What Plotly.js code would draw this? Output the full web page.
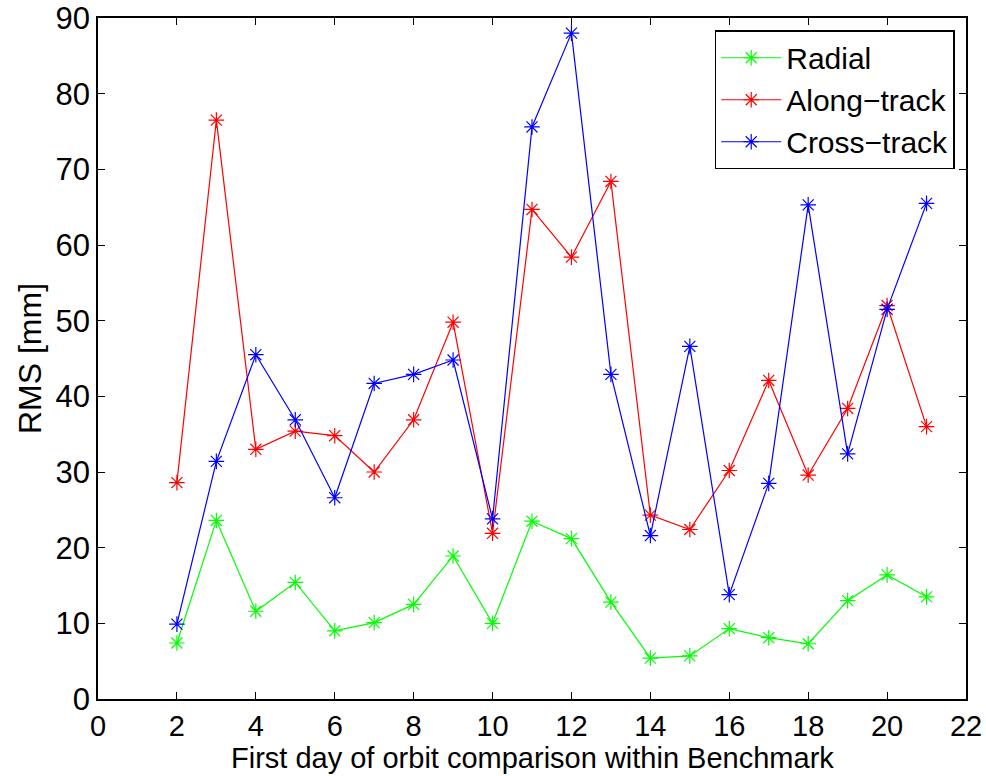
<!DOCTYPE html>
<html>
<head>
<meta charset="utf-8">
<script src="https://cdn.plot.ly/plotly-3.0.1.min.js"></script>
<style>html,body{margin:0;padding:0;background:#fff;}#chart{width:986px;height:776px;}</style>
</head>
<body>
<div id="chart"></div>
<script>
const days = [2,3,4,5,6,7,8,9,10,11,12,13,14,15,16,17,18,19,20,21];
const radial = [7.4,23.6,11.6,15.4,9.0,10.1,12.5,18.9,10.0,23.5,21.2,12.8,5.4,5.7,9.3,8.1,7.3,13.0,16.4,13.5];
const alongTrack = [28.6,76.5,33.0,35.4,34.8,30.0,36.9,49.8,21.9,64.7,58.4,68.4,24.3,22.4,30.2,42.1,29.6,38.4,52.0,36.0];
const crossTrack = [9.9,31.4,45.5,36.9,26.6,41.7,42.9,44.8,23.8,75.6,88.0,42.9,21.6,46.6,13.8,28.5,65.3,32.4,51.5,65.5];
const seriesNames = ["Radial","Along\u2212track","Cross\u2212track"];
const xTicks = [0,2,4,6,8,10,12,14,16,18,20,22];
const yTicks = [0,10,20,30,40,50,60,70,80,90];
const xTitle = 'First day of orbit comparison within Benchmark';
const yTitle = 'RMS [mm]';

function tr(y, name, color){
  return {x: days, y: y, name: name, type: 'scatter', mode: 'lines+markers',
    line: {color: color, width: 1.2},
    marker: {symbol: 'asterisk-open', size: 13, color: color, line: {color: color, width: 1.2}}};
}
const data = [tr(radial, seriesNames[0], '#00ff00'), tr(alongTrack, seriesNames[1], '#ff0000'), tr(crossTrack, seriesNames[2], '#0000ff')];
const fam = 'Liberation Sans, Arial, sans-serif';
const yTickFont = {family: fam, size: 31, color: '#000'};
const xTickFont = {family: fam, size: 29, color: '#000'};
const titleFont = {family: fam, size: 32, color: '#000'};
const xTitleFont = {family: fam, size: 29, color: '#000'};
const legendFont = {family: fam, size: 30, color: '#000'};
const layout = {
  width: 986, height: 776,
  margin: {l: 98, r: 20, t: 18, b: 77},
  paper_bgcolor: '#fff', plot_bgcolor: '#fff',
  font: yTickFont,
  showlegend: true,
  legend: {x: 0.987, y: 0.982, xanchor: 'right', yanchor: 'top', bordercolor: '#000', borderwidth: 1.5,
    bgcolor: '#fff', font: legendFont, tracegroupgap: 0, itemwidth: 60},
  xaxis: {range: [0, 22], tickvals: xTicks, ticktext: xTicks.map(String), ticks: 'inside', ticklen: 7, tickcolor: '#000',
    showline: true, linecolor: '#000', linewidth: 1.5, mirror: 'ticks', showgrid: false, zeroline: false, automargin: false,
    tickfont: xTickFont},
  yaxis: {range: [0, 90], tickvals: yTicks, ticktext: yTicks.map(String), ticks: 'inside', ticklen: 7, tickcolor: '#000',
    showline: true, linecolor: '#000', linewidth: 1.5, mirror: 'ticks', showgrid: false, zeroline: false, automargin: false,
    tickfont: yTickFont, title: {text: yTitle, font: titleFont, standoff: 4}},
  annotations: [{text: xTitle, xref: 'paper', yref: 'paper', x: 0.5, y: 0, xanchor: 'center', yanchor: 'middle',
    yshift: -59, showarrow: false, font: xTitleFont}]
};
Plotly.newPlot('chart', data, layout, {displayModeBar: false});
</script>
</body>
</html>
